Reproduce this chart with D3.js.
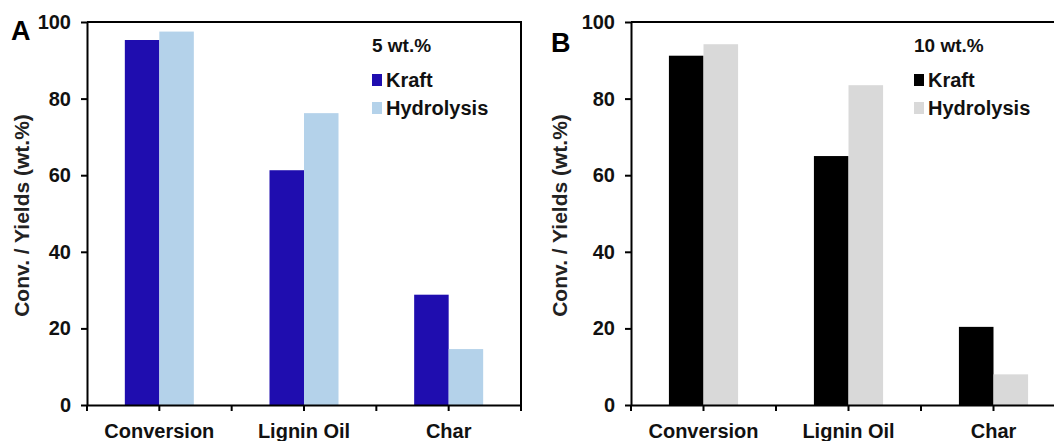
<!DOCTYPE html>
<html>
<head>
<meta charset="utf-8">
<script src="https://cdn.jsdelivr.net/npm/d3@7"></script>
<style>
  body { margin: 0; background: #fff; }
  svg { display: block; font-family: "Liberation Sans", Arial, sans-serif; font-weight: bold; }
</style>
</head>
<body>
<svg id="chart"></svg>
<script>
// data
var categories = ["Conversion", "Lignin Oil", "Char"];
var seriesNames = ["Kraft", "Hydrolysis"];
var kraft5 = [95.3, 61.3, 28.8];
var hydro5 = [97.5, 76.2, 14.6];
var kraft10 = [91.2, 65.0, 20.4];
var hydro10 = [94.2, 83.5, 8.0];
var yTicks = [0, 20, 40, 60, 80, 100];

var w = 1054, h = 441;
var plotTop = 22, plotBottom = 405;
var groupFrac = 0.477;

var svg = d3.select("#chart").attr("width", w).attr("height", h);

var panels = [
    { letter: "A", letterX: 11, letterY: 40, x0: 87, x1: 521, title: "5 wt.%", legX: 372,
      colors: ["#1f0daf", "#b4d2ea"], values: [kraft5, hydro5], labelX: 29 },
    { letter: "B", letterX: 551, letterY: 52, x0: 631, x1: 1066, title: "10 wt.%", legX: 914,
      colors: ["#000000", "#d9d9d9"], values: [kraft10, hydro10], labelX: 567 }
];

var y = d3.scaleLinear().domain([0, 100]).range([plotBottom, plotTop]);

panels.forEach(function(p) {
    var g = svg.append("g");

    var x = d3.scaleBand().domain(categories).range([p.x0, p.x1]).padding(0);
    var bw = x.bandwidth();
    var xs = d3.scaleBand().domain(seriesNames)
        .range([bw * (1 - groupFrac) / 2, bw * (1 + groupFrac) / 2]).padding(0);

    // bars
    seriesNames.forEach(function(s, si) {
        g.append("g").selectAll("rect")
            .data(p.values[si])
            .join("rect")
            .attr("x", function(d, i) { return x(categories[i]) + xs(s); })
            .attr("y", function(d) { return y(d); })
            .attr("width", xs.bandwidth())
            .attr("height", function(d) { return y(0) - y(d); })
            .attr("fill", p.colors[si]);
    });

    // frame top + right
    g.append("path")
        .attr("d", "M" + p.x0 + "," + plotTop + "H" + p.x1 + "V" + plotBottom)
        .attr("fill", "none").attr("stroke", "#000").attr("stroke-width", 2);

    // y axis
    var ya = g.append("g")
        .attr("transform", "translate(" + p.x0 + ",0)")
        .call(d3.axisLeft(y).tickValues(yTicks).tickSize(6).tickSizeOuter(0).tickPadding(10));
    ya.select(".domain").attr("stroke-width", 2);
    ya.selectAll(".tick line").attr("stroke-width", 2);
    ya.selectAll("text").attr("font-size", 20).attr("font-family", null).attr("fill", "#111");

    // x axis: ticks at centres and at boundaries
    var xa = g.append("g")
        .attr("transform", "translate(0," + plotBottom + ")")
        .call(d3.axisBottom(x).tickSize(6).tickSizeOuter(0).tickPadding(0));
    xa.select(".domain").attr("stroke-width", 2);
    xa.selectAll(".tick line").attr("stroke-width", 2);
    xa.selectAll("text").attr("font-size", 20).attr("font-family", null)
        .attr("fill", "#111").attr("y", 33).attr("dy", 0);
    var bounds = categories.map(function(c) { return x(c); }).concat([p.x1]);
    xa.selectAll(".bound").data(bounds).join("line")
        .attr("x1", function(d) { return d; }).attr("x2", function(d) { return d; })
        .attr("y1", 0).attr("y2", 6)
        .attr("stroke", "#000").attr("stroke-width", 2);

    // y label
    g.append("text")
        .attr("transform", "translate(" + p.labelX + "," + ((plotTop + plotBottom) / 2 + 2) + ") rotate(-90)")
        .attr("text-anchor", "middle")
        .attr("font-size", 21)
        .attr("fill", "#222")
        .text("Conv. / Yields (wt.%)");

    // panel letter
    g.append("text")
        .attr("x", p.letterX).attr("y", p.letterY)
        .attr("font-size", 27)
        .attr("fill", "#000")
        .text(p.letter);

    // legend
    g.append("text")
        .attr("x", p.legX).attr("y", 52)
        .attr("font-size", 19).attr("fill", "#111")
        .text(p.title);
    seriesNames.forEach(function(s, si) {
        var ly = 87 + si * 28;
        g.append("rect")
            .attr("x", p.legX).attr("y", ly - 13)
            .attr("width", 10).attr("height", 12)
            .attr("fill", p.colors[si]);
        g.append("text")
            .attr("x", p.legX + 14).attr("y", ly)
            .attr("font-size", 20).attr("fill", "#111")
            .text(s);
    });
});
</script>
</body>
</html>
